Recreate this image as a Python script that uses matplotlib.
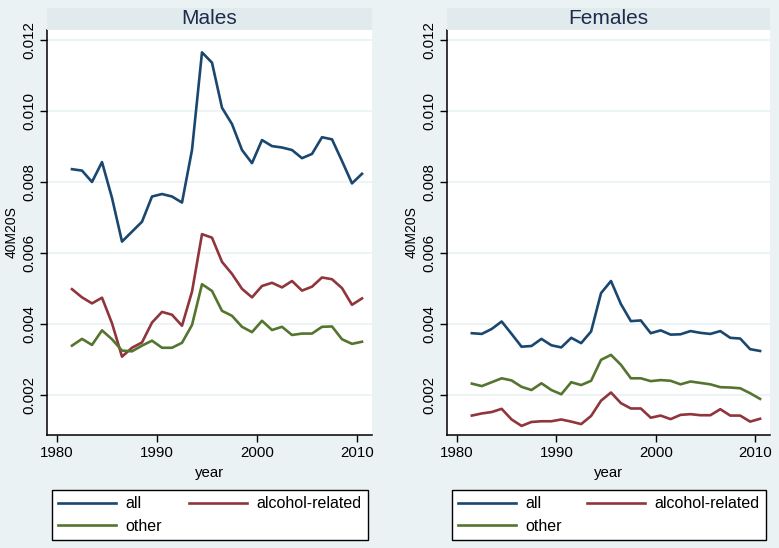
import matplotlib
matplotlib.use("Agg")
import matplotlib.pyplot as plt
from matplotlib.patches import Rectangle

plt.rcParams['font.family'] = ['Liberation Sans', 'DejaVu Sans']

years = [1981.5 + i for i in range(30)]

males_all = [0.00836, 0.00832, 0.00800, 0.00856, 0.00755, 0.00632, 0.00660, 0.00688,
             0.00759, 0.00766, 0.00759, 0.00742, 0.00890, 0.01165, 0.01136, 0.01009,
             0.00963, 0.00890, 0.00853, 0.00918, 0.00901, 0.00897, 0.00890, 0.00867,
             0.00879, 0.00926, 0.00920, 0.00859, 0.00796, 0.00823]
males_alcohol = [0.00498, 0.00475, 0.00458, 0.00474, 0.00402, 0.00308, 0.00333, 0.00348,
                 0.00404, 0.00434, 0.00426, 0.00395, 0.00491, 0.00653, 0.00643, 0.00575,
                 0.00541, 0.00499, 0.00475, 0.00507, 0.00516, 0.00503, 0.00521, 0.00494,
                 0.00505, 0.00531, 0.00526, 0.00501, 0.00454, 0.00472]
males_other = [0.00339, 0.00358, 0.00341, 0.00382, 0.00357, 0.00325, 0.00323, 0.00339,
               0.00353, 0.00333, 0.00333, 0.00347, 0.00397, 0.00512, 0.00493, 0.00437,
               0.00423, 0.00392, 0.00377, 0.00409, 0.00383, 0.00392, 0.00369, 0.00373,
               0.00373, 0.00392, 0.00393, 0.00357, 0.00344, 0.00350]

females_all = [0.00374, 0.00372, 0.00386, 0.00407, 0.00372, 0.00336, 0.00338, 0.00358,
               0.00340, 0.00334, 0.00361, 0.00346, 0.00379, 0.00487, 0.00521, 0.00456,
               0.00408, 0.00410, 0.00374, 0.00382, 0.00370, 0.00371, 0.00380, 0.00375,
               0.00372, 0.00380, 0.00361, 0.00359, 0.00329, 0.00324]
females_alcohol = [0.00142, 0.00148, 0.00152, 0.00161, 0.00131, 0.00113, 0.00124, 0.00126,
                   0.00126, 0.00131, 0.00125, 0.00118, 0.00141, 0.00184, 0.00207, 0.00177,
                   0.00162, 0.00162, 0.00136, 0.00142, 0.00132, 0.00144, 0.00146, 0.00143,
                   0.00143, 0.00160, 0.00142, 0.00142, 0.00125, 0.00133]
females_other = [0.00232, 0.00225, 0.00236, 0.00247, 0.00241, 0.00223, 0.00214, 0.00233,
                 0.00214, 0.00202, 0.00236, 0.00228, 0.00240, 0.00299, 0.00313, 0.00285,
                 0.00247, 0.00247, 0.00239, 0.00242, 0.00240, 0.00230, 0.00238, 0.00234,
                 0.00230, 0.00222, 0.00221, 0.00219, 0.00205, 0.00189]

panel_titles = ["Males", "Females"]
series_labels = ["all", "alcohol-related", "other"]
xticks = [1980, 1990, 2000, 2010]
yticks = [0.002, 0.004, 0.006, 0.008, 0.010, 0.012]
ytick_labels = ["0.002", "0.004", "0.006", "0.008", "0.010", "0.012"]

c_all = "#1A476F"
c_alc = "#90353B"
c_oth = "#55752F"
bg = "#EAF2F3"
band = "#E1EBEE"
title_col = "#1E2B4A"

W, H = 779, 548
fig = plt.figure(figsize=(W / 100, H / 100), dpi=100, facecolor=bg)

panels = [
    (47, 372, males_all, males_alcohol, males_other),
    (447, 770, females_all, females_alcohol, females_other),
]
top_px, bot_px = 30, 435

for (x0, x1, a, al, o), title in zip(panels, panel_titles):
    ax = fig.add_axes([x0 / W, 1 - bot_px / H, (x1 - x0) / W, (bot_px - top_px) / H])
    ax.set_facecolor("white")
    ax.set_xlim(1979.0, 2011.5)
    ax.set_ylim(0.000873, 0.01228)
    ax.set_yticks(yticks)
    ax.set_yticklabels(ytick_labels, rotation=90, va="center", fontsize=10.8)
    ax.set_xticks(xticks)
    ax.set_xticklabels([str(t) for t in xticks], fontsize=10.8)
    ax.grid(axis="y", color=bg, linewidth=1.2)
    ax.set_axisbelow(True)
    for s in ["top", "right"]:
        ax.spines[s].set_visible(False)
    for s in ["left", "bottom"]:
        ax.spines[s].set_color("black")
        ax.spines[s].set_linewidth(1.1)
    ax.tick_params(direction="out", length=5, width=1.0, color="black", pad=3)

    la, = ax.plot(years, a, color=c_all, lw=1.9)
    lal, = ax.plot(years, al, color=c_alc, lw=1.9)
    lo, = ax.plot(years, o, color=c_oth, lw=1.9)

    ax.set_xlabel("year", fontsize=10.8, labelpad=4)
    ax.set_ylabel("40M20S", fontsize=10)
    ax.yaxis.set_label_coords(-0.088, 0.5)

    # title band
    fig.patches.append(Rectangle((x0 / W, 1 - 30 / H), (x1 - x0) / W, 22 / H,
                                 transform=fig.transFigure, facecolor=band,
                                 edgecolor="none", zorder=0))
    fig.text((x0 + x1) / 2 / W, 1 - 19 / H, title, ha="center", va="center",
             fontsize=15, color=title_col)

    axw = x1 - x0
    axh = bot_px - top_px
    lx0 = 5 / axw
    lw_ = (axw - 9) / axw
    ly0 = (bot_px - 540) / axh
    lh = (540 - 486) / axh
    leg = ax.legend([la, lo, lal], [series_labels[0], series_labels[2], series_labels[1]],
                    ncol=2, loc="lower left", bbox_to_anchor=(lx0, ly0, lw_, lh),
                    mode="expand", fontsize=11.5, frameon=True, fancybox=False,
                    edgecolor="black", facecolor="white", framealpha=1,
                    handlelength=3.6, handletextpad=0.6, borderaxespad=0,
                    labelspacing=0.45, borderpad=0.4)
    leg.get_frame().set_linewidth(1.0)

fig.savefig("out.png", dpi=100, facecolor=bg)
